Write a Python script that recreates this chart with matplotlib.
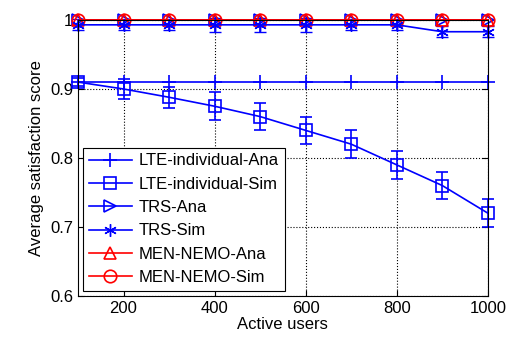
import numpy as np
import matplotlib
matplotlib.use('Agg')
import matplotlib.pyplot as plt

plt.rcParams['font.family'] = ['Liberation Sans', 'DejaVu Sans']

users = [100, 200, 300, 400, 500, 600, 700, 800, 900, 1000]
lte_ana = [0.91] * 10
lte_sim = [0.91, 0.90, 0.888, 0.875, 0.86, 0.84, 0.82, 0.79, 0.76, 0.72]
lte_err = [0.006, 0.015, 0.015, 0.02, 0.02, 0.02, 0.02, 0.02, 0.02, 0.02]
trs_ana = [1.0] * 10
trs_sim = [0.993, 0.993, 0.993, 0.993, 0.993, 0.993, 0.993, 0.993, 0.983, 0.983]
trs_err = [0.008, 0.008, 0.008, 0.01, 0.01, 0.01, 0.008, 0.008, 0.008, 0.008]
men_ana = [1.0] * 10
men_sim = [1.0] * 10

fig = plt.figure(figsize=(5.13, 3.39), dpi=100)
ax = fig.add_axes([0.152, 0.127, 0.799, 0.814])

handles = []
h, = ax.plot(users, lte_ana, color='blue', marker='+', markersize=10, lw=1.2,
             mew=1.2, clip_on=False, label='LTE-individual-Ana')
handles.append(h)
eb = ax.errorbar(users, lte_sim, yerr=lte_err, color='blue', marker='s',
                 markersize=9, mfc='none', mew=1.2, lw=1.2, capsize=4,
                 clip_on=False)
eb[0].set_label('LTE-individual-Sim')
handles.append(eb[0])
h, = ax.plot(users, trs_ana, color='blue', marker='>', markersize=9,
             mfc='none', mew=1.2, lw=1.2, clip_on=False, label='TRS-Ana')
handles.append(h)
eb = ax.errorbar(users, trs_sim, yerr=trs_err, color='blue', marker=(6, 2, 0),
                 markersize=9, mew=1.0, lw=1.2, capsize=4, clip_on=False)
eb[0].set_label('TRS-Sim')
handles.append(eb[0])
h, = ax.plot(users, men_ana, color='red', marker='^', markersize=9,
             mfc='none', mew=1.2, lw=1.2, clip_on=False, label='MEN-NEMO-Ana')
handles.append(h)
h, = ax.plot(users, men_sim, color='red', marker='o', markersize=9,
             mfc='none', mew=1.2, lw=1.2, clip_on=False, label='MEN-NEMO-Sim')
handles.append(h)

ax.set_xlim(100, 1000)
ax.set_ylim(0.6, 1.0)
ax.set_xticks([200, 400, 600, 800, 1000])
ax.set_yticks([0.6, 0.7, 0.8, 0.9, 1.0])
ax.set_yticklabels(['0.6', '0.7', '0.8', '0.9', '1'])
ax.tick_params(direction='in', labelsize=12, top=True, right=True, length=4)
ax.grid(True, color='black', linestyle=':', linewidth=0.8)
ax.set_xlabel('Active users', fontsize=12, labelpad=1)
ax.set_ylabel('Average satisfaction score', fontsize=12)

leg = ax.legend(handles=handles, loc='lower left', fontsize=12,
                handlelength=2.6, fancybox=False, framealpha=1,
                edgecolor='black', borderaxespad=0.3, labelspacing=0.5,
                borderpad=0.35, handletextpad=0.4)
leg.get_frame().set_linewidth(0.8)

fig.savefig('out.png', dpi=100)
